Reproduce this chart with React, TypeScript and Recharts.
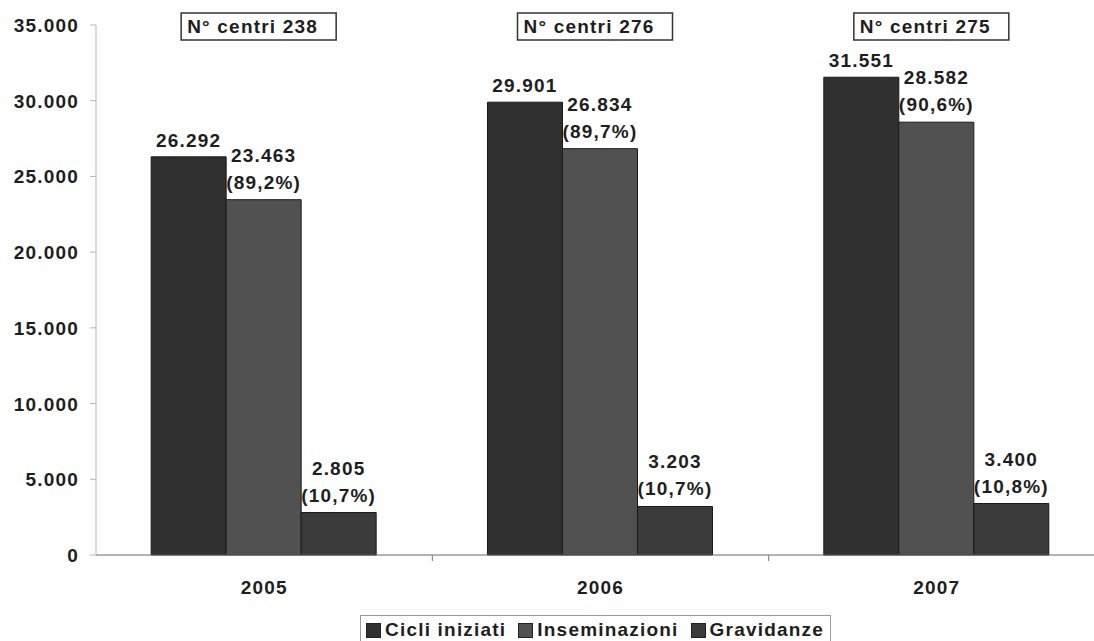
import {
  BarChart,
  Bar,
  XAxis,
  YAxis,
  LabelList,
  Legend,
  ReferenceDot
} from "recharts";

// values
const years = ["2005", "2006", "2007"];
const cicli = [26292, 29901, 31551];
const inseminazioni = [23463, 26834, 28582];
const gravidanze = [2805, 3203, 3400];
const insPct = ["89,2%", "89,7%", "90,6%"];
const gravPct = ["10,7%", "10,7%", "10,8%"];
const centri = [238, 276, 275];
const yTicks = [0, 5000, 10000, 15000, 20000, 25000, 30000, 35000];

const seriesNames = ["Cicli iniziati", "Inseminazioni", "Gravidanze"];

// colours
const cCicli = "#303030";
const cIns = "#515151";
const cGrav = "#3b3b3b";
const ink = "#1e1e1e";
const font = "'Liberation Sans', Arial, sans-serif";
const ls = 1.2;

const data = years.map((y, i) => ({
  year: y,
  cicli: cicli[i],
  ins: inseminazioni[i],
  grav: gravidanze[i]
}));

const fmt = (v: number) =>
  String(v).replace(/\B(?=(\d{3})+(?!\d))/g, ".");

const textStyle = {
  fontFamily: font,
  fontWeight: "bold" as const,
  fontSize: 19,
  letterSpacing: ls
};

function YTick(props: any) {
  const { x, y, payload } = props;
  return (
    <text x={x - 9} y={y + 7} textAnchor="end" fill={ink} style={textStyle}>
      {fmt(payload.value)}
    </text>
  );
}

function XTick(props: any) {
  const { x, y, payload } = props;
  const half = payload.offset || 0;
  return (
    <g>
      <line x1={x + half} x2={x + half} y1={y - 8} y2={y - 2} stroke="#777" />
      <text x={x} y={y + 31} textAnchor="middle" fill={ink} style={textStyle}>
        {payload.value}
      </text>
    </g>
  );
}

function singleLabel(props: any) {
  const { x, y, width, value } = props;
  return (
    <text x={x + width / 2} y={y - 10} textAnchor="middle" fill={ink} style={textStyle}>
      {fmt(value)}
    </text>
  );
}

function makeDoubleLabel(pcts: string[]) {
  return (props: any) => {
    const { x, y, width, value, index } = props;
    const cx = x + width / 2;
    return (
      <g>
        <text x={cx} y={y - 38} textAnchor="middle" fill={ink} style={textStyle}>
          {fmt(value)}
        </text>
        <text x={cx} y={y - 11} textAnchor="middle" fill={ink} style={textStyle}>
          ({pcts[index]})
        </text>
      </g>
    );
  };
}

function centriBox(n: number) {
  return (props: any) => {
    const { cx, cy } = props;
    const left = cx - 83;
    return (
      <g>
        <rect x={left} y={cy - 12} width={155} height={27} fill="#fff" stroke="#333" strokeWidth={1.5} />
        <text x={left + 6} y={cy + 8} fill={ink} style={textStyle}>
          N° centri {n}
        </text>
      </g>
    );
  };
}

function LegendBox() {
  const cols = [cCicli, cIns, cGrav];
  return (
    <div
      style={{
        display: "flex",
        alignItems: "center",
        border: "1px solid #9a9a9a",
        height: 30,
        padding: "0 6px 0 5px",
        boxSizing: "border-box",
        background: "#fff"
      }}
    >
      {seriesNames.map((s, i) => (
        <div key={s} style={{ display: "flex", alignItems: "center", marginRight: i < 2 ? 12 : 0 }}>
          <span
            style={{
              width: 15,
              height: 15,
              background: cols[i],
              border: "1px solid #222",
              boxSizing: "border-box",
              marginRight: 4,
              display: "inline-block"
            }}
          />
          <span style={{ ...textStyle, color: ink, lineHeight: "20px" }}>{s}</span>
        </div>
      ))}
    </div>
  );
}

export default function App() {
  return (
    <div
      style={{
        position: "absolute",
        left: 0,
        top: 0,
        width: 1094,
        height: 641,
        overflow: "hidden",
        background: "#fff"
      }}
    >
      <BarChart
        width={1120}
        height={641}
        data={data}
        margin={{ top: 25, right: 15, bottom: 0, left: 0 }}
        barCategoryGap="16.4%"
        barGap={0}
      >
        <XAxis
          dataKey="year"
          height={56}
          axisLine={{ stroke: "#666" }}
          tickLine={false}
          tick={<XTick />}
          interval={0}
        />
        <YAxis
          width={96}
          domain={[0, 35000]}
          ticks={yTicks}
          interval={0}
          axisLine={{ stroke: "#b5b5b5" }}
          tickLine={{ stroke: "#b5b5b5" }}
          tickSize={6}
          tick={<YTick />}
        />
        <Legend
          content={<LegendBox />}
          height={30}
          wrapperStyle={{ position: "absolute", left: 360, top: 615, width: "auto" }}
        />
        {years.map((y, i) => (
          <ReferenceDot
            key={y}
            x={y}
            y={35000}
            r={0}
            ifOverflow="visible"
            shape={centriBox(centri[i])}
          />
        ))}
        <Bar dataKey="cicli" name={seriesNames[0]} fill={cCicli} stroke="#1a1a1a" isAnimationActive={false}>
          <LabelList dataKey="cicli" content={singleLabel} />
        </Bar>
        <Bar dataKey="ins" name={seriesNames[1]} fill={cIns} stroke="#1a1a1a" isAnimationActive={false}>
          <LabelList dataKey="ins" content={makeDoubleLabel(insPct)} />
        </Bar>
        <Bar dataKey="grav" name={seriesNames[2]} fill={cGrav} stroke="#1a1a1a" isAnimationActive={false}>
          <LabelList dataKey="grav" content={makeDoubleLabel(gravPct)} />
        </Bar>
      </BarChart>
    </div>
  );
}
